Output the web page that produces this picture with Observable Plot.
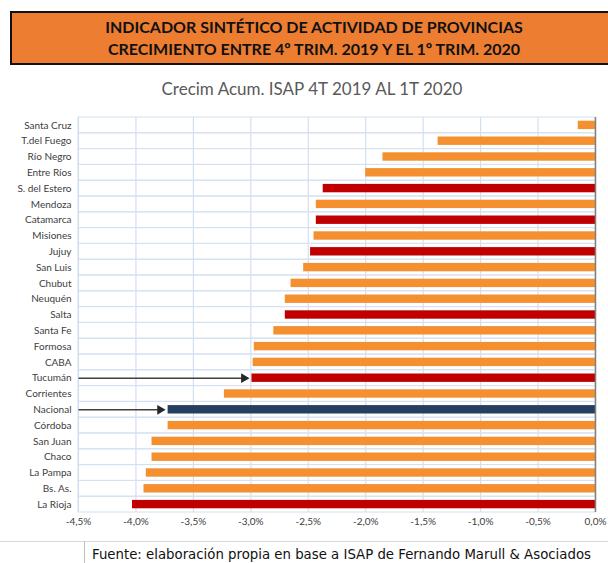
<!DOCTYPE html>
<html>
<head>
<meta charset="utf-8">
<script src="https://cdn.jsdelivr.net/npm/d3@7"></script>
<script src="https://cdn.jsdelivr.net/npm/@observablehq/plot@0.6"></script>
<style>
  html, body { margin: 0; padding: 0; background: #fff; width: 608px; height: 563px; overflow: hidden; }
  #wrap { position: relative; width: 608px; height: 563px; overflow: hidden; }
  #titlebox { position: absolute; left: 10px; top: 11px; width: 600px; height: 54px; box-sizing: border-box;
    border: 2px solid #111; background: #ED7D31; font-family: Lato, sans-serif; font-weight: bold;
    font-size: 16px; color: #111; text-align: center; line-height: 22px; padding-top: 3px; padding-left: 8px; }
  #subtitle { position: absolute; left: 0; width: 624px; top: 78px; text-align: center;
    font-family: Lato, sans-serif; font-size: 17px; color: #595959; }
  #chart { position: absolute; left: 0; top: 100px; }
  #footline { position: absolute; left: 0; top: 541px; width: 608px; height: 1px; background: #d9d9d9; }
  #footv { position: absolute; left: 84px; top: 541px; width: 1px; height: 22px; background: #bfbfbf; }
  #footer { position: absolute; left: 92px; top: 547px; white-space: nowrap; font-family: "DejaVu Sans", sans-serif;
    font-size: 13.3px; color: #111; }
</style>
</head>
<body>
<div id="wrap">
  <div id="titlebox">INDICADOR SINTÉTICO DE ACTIVIDAD DE PROVINCIAS<br>CRECIMIENTO ENTRE 4º TRIM. 2019 Y EL 1º TRIM. 2020</div>
  <div id="subtitle">Crecim Acum. ISAP 4T 2019 AL 1T 2020</div>
  <div id="chart"></div>
  <div id="footline"></div>
  <div id="footv"></div>
  <div id="footer">Fuente: elaboración propia en base a ISAP de Fernando Marull &amp; Asociados</div>
</div>
<script>
// Categories (top to bottom)
const provincias = ["Santa Cruz","T.del Fuego","Río Negro","Entre Ríos","S. del Estero","Mendoza","Catamarca",
  "Misiones","Jujuy","San Luis","Chubut","Neuquén","Salta","Santa Fe","Formosa","CABA","Tucumán",
  "Corrientes","Nacional","Córdoba","San Juan","Chaco","La Pampa","Bs. As.","La Rioja"];
// Growth (%)
const valores = [-0.15,-1.37,-1.85,-2.0,-2.37,-2.43,-2.43,
  -2.45,-2.48,-2.54,-2.65,-2.7,-2.7,-2.8,-2.97,-2.98,-2.99,
  -3.23,-3.72,-3.72,-3.86,-3.86,-3.91,-3.93,-4.03];
// Group: o = provincia, r = NOA destacada, n = nacional
const grupos = ["o","o","o","o","r","o","r",
  "o","r","o","o","o","r","o","o","o","r",
  "o","n","o","o","o","o","o","r"];
// Arrows pointing to highlighted rows
const flechas = ["Tucumán","Nacional"];
// x ticks
const ticksX = [-4.5,-4.0,-3.5,-3.0,-2.5,-2.0,-1.5,-1.0,-0.5,0.0];

const colores = {o: "#F4902F", r: "#C00000", n: "#243F60"};
const data = provincias.map((p, i) => ({name: p, v: valores[i], g: grupos[i]}));
const arrowData = data.filter(d => flechas.includes(d.name));

const chart = Plot.plot({
  width: 608,
  height: 440,
  marginTop: 17,
  marginBottom: 28,
  marginLeft: 78,
  marginRight: 13,
  style: {fontFamily: "Lato, sans-serif", fontSize: "10px", color: "#404040", background: "transparent"},
  x: {domain: [-4.5, 0], label: null},
  y: {domain: provincias, padding: 0, round: false, label: null},
  marks: [
    Plot.barX(data, {x1: d => ticksX[0], x2: d => 0, y: "name", fill: "none", stroke: "#D3E0F0", strokeWidth: 1}),
    Plot.ruleX(ticksX.slice(0, -1), {stroke: "#D3E0F0", strokeWidth: 1.2}),
    Plot.link(arrowData, {x1: d => ticksX[0], x2: d => d.v - 0.08, y1: "name", y2: "name", stroke: "#404040", strokeWidth: 1.5}),
    Plot.dot(arrowData, {x: d => d.v - 0.07, y: "name", symbol: "triangle", rotate: 90, r: 3.6, fill: "#262626", stroke: "none"}),
    Plot.barX(data, {x1: d => 0, x2: "v", y: "name", fill: d => colores[d.g], insetTop: 3.7, insetBottom: 3.7}),
    Plot.ruleX([0], {stroke: "#808080", strokeWidth: 1.5}),
    Plot.axisX({ticks: ticksX, tickSize: 0, tickPadding: 5, label: null,
      tickFormat: d => d.toFixed(1).replace(".", ",") + "%", fontSize: 10}),
    Plot.axisY({tickSize: 0, tickPadding: 7, label: null, fontSize: 10})
  ]
});
document.getElementById("chart").appendChild(chart);
</script>
</body>
</html>
